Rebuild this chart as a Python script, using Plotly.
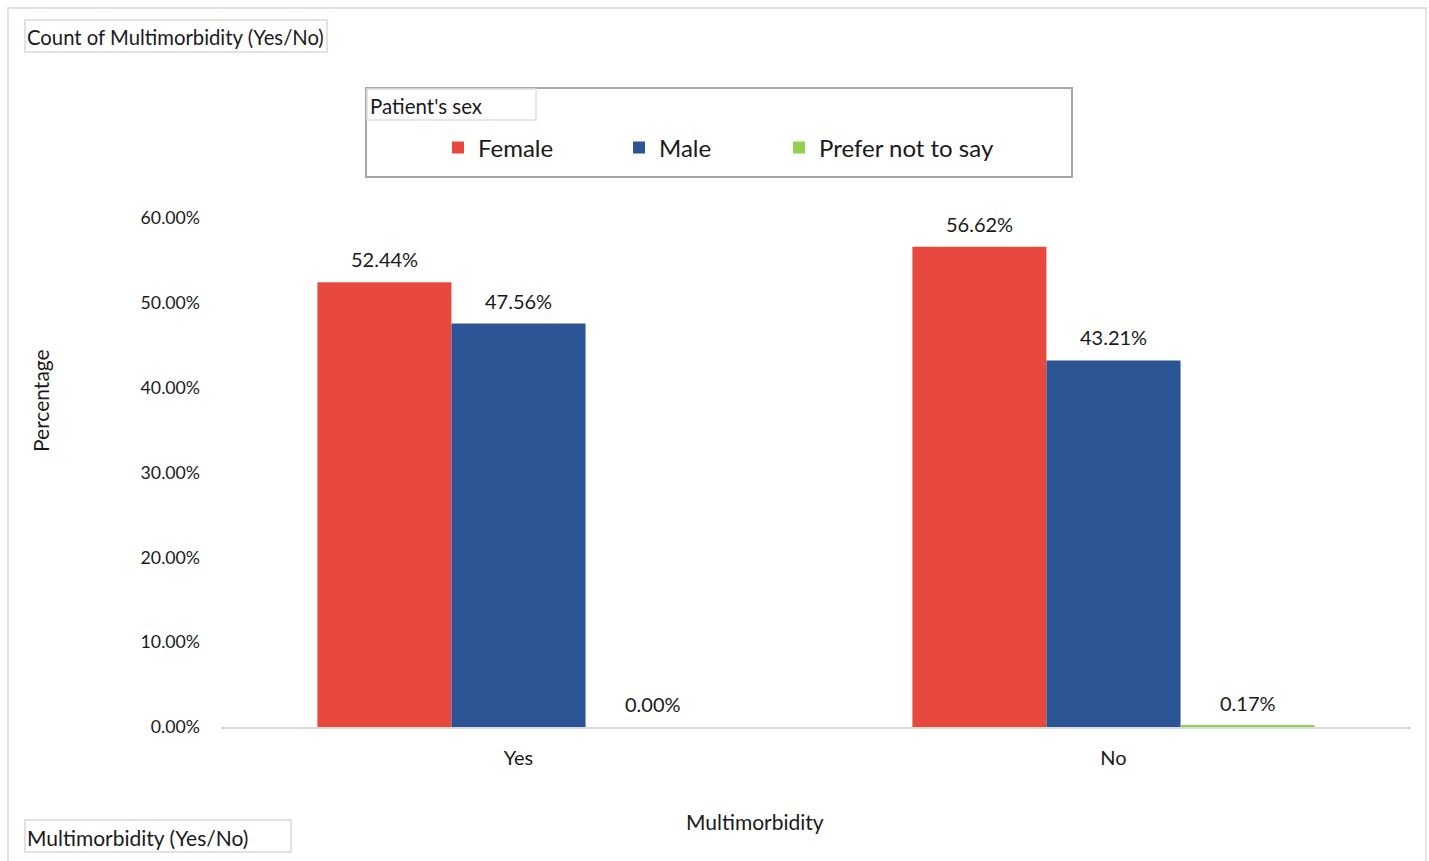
import plotly.graph_objects as go

categories = ["Yes", "No"]
series_names = ["Female", "Male", "Prefer not to say"]
female = [52.44, 56.62]
male = [47.56, 43.21]
prefer_not = [0.00, 0.17]
series_values = [female, male, prefer_not]
series_colors = ["#E8493F", "#2C5595", "#92D050"]
y_ticks = [0, 10, 20, 30, 40, 50, 60]
y_tick_labels = ["%.2f%%" % v for v in y_ticks]

W, H = 1429, 861
L, R, T, B = 221, 18, 218, 134
PW, PH = W - L - R, H - T - B
BARGAP = 0.324

def px(x):
    return (x - L) / PW

def py(y):
    return (H - B - y) / PH

FONT = "Lato, 'Open Sans', sans-serif"
TXT = "#1a1a1a"

legend_names = ["legend", "legend2", "legend3"]
legend_x = [438, 619, 779]

fig = go.Figure()
for name, vals, col, lg in zip(series_names, series_values, series_colors, legend_names):
    fig.add_trace(go.Bar(
        name=name, x=categories, y=vals,
        marker=dict(color=col, line=dict(width=0)),
        legend=lg, cliponaxis=False,
    ))

# data labels placed through data coordinates of the grouped bars
n = len(series_values)
bar_w = (1 - BARGAP) / n
annotations = []
for i, vals in enumerate(series_values):
    off = (i - (n - 1) / 2) * bar_w
    for ci, v in enumerate(vals):
        annotations.append(dict(
            x=ci + off, y=v, xref="x", yref="y", text="%.2f%%" % v,
            showarrow=False, xanchor="center", yanchor="bottom", yshift=9,
            font=dict(family=FONT, size=20, color=TXT)))

shapes = [
    dict(type="rect", xref="paper", yref="paper",
         x0=px(8), x1=px(1426), y0=py(870), y1=py(8),
         line=dict(color="#D9D9D9", width=1.5), fillcolor="rgba(0,0,0,0)", layer="below"),
    dict(type="rect", xref="paper", yref="paper",
         x0=px(366), x1=px(1072), y0=py(177), y1=py(88),
         line=dict(color="#A6A6A6", width=2), fillcolor="rgba(0,0,0,0)"),
    dict(type="rect", xref="paper", yref="paper",
         x0=px(367), x1=px(536), y0=py(120), y1=py(89),
         line=dict(color="#E0E0E0", width=1.5), fillcolor="rgba(0,0,0,0)"),
    dict(type="rect", xref="paper", yref="paper",
         x0=px(25), x1=px(327), y0=py(52), y1=py(20),
         line=dict(color="#D9D9D9", width=1.5), fillcolor="rgba(0,0,0,0)"),
    dict(type="rect", xref="paper", yref="paper",
         x0=px(25), x1=px(291), y0=py(852), y1=py(820),
         line=dict(color="#D9D9D9", width=1.5), fillcolor="rgba(0,0,0,0)"),
]

annotations += [
    dict(text="Patient's sex", xref="paper", yref="paper", x=px(368), y=py(106),
         xanchor="left", yanchor="middle", showarrow=False,
         font=dict(family=FONT, size=20.5, color=TXT)),
    dict(text="Count of Multimorbidity (Yes/No)", xref="paper", yref="paper",
         x=px(25), y=py(37), xanchor="left", yanchor="middle", showarrow=False,
         font=dict(family=FONT, size=20.3, color=TXT)),
    dict(text="Multimorbidity (Yes/No)", xref="paper", yref="paper",
         x=px(25), y=py(837), xanchor="left", yanchor="middle", showarrow=False,
         font=dict(family=FONT, size=21, color=TXT)),
    dict(text="Multimorbidity", xref="paper", yref="paper", x=px(755), y=py(821),
         xanchor="center", yanchor="middle", showarrow=False,
         font=dict(family=FONT, size=21, color=TXT)),
    dict(text="Percentage", xref="paper", yref="paper", x=px(40), y=py(401),
         xanchor="center", yanchor="middle", showarrow=False, textangle=-90,
         font=dict(family=FONT, size=21, color=TXT)),
]

legend_common = dict(orientation="h", yanchor="middle", xanchor="left",
                     font=dict(family=FONT, size=24, color=TXT),
                     bgcolor="rgba(0,0,0,0)", itemwidth=30)
layout_legends = {}
for lg, lx in zip(legend_names, legend_x):
    layout_legends[lg] = dict(legend_common, x=px(lx), y=py(148))

fig.update_layout(
    width=W, height=H,
    margin=dict(l=L, r=R, t=T, b=B, pad=0),
    paper_bgcolor="white", plot_bgcolor="white",
    barmode="group", bargap=BARGAP, bargroupgap=0,
    font=dict(family=FONT, color=TXT),
    showlegend=True,
    xaxis=dict(
        showline=True, linecolor="#D9D9D9", linewidth=2,
        showgrid=False, ticks="", ticklabelstandoff=12,
        tickfont=dict(family=FONT, size=20, color=TXT),
        fixedrange=True,
    ),
    yaxis=dict(
        range=[0, 60], tickvals=y_ticks, ticktext=y_tick_labels,
        showgrid=False, zeroline=False, showline=False, ticks="",
        ticklabelstandoff=20,
        tickfont=dict(family=FONT, size=17.7, color=TXT),
        fixedrange=True,
    ),
    shapes=shapes,
    annotations=annotations,
    **layout_legends,
)

fig.write_html("out.html", config={"displayModeBar": False},
               post_script="document.body.style.margin='0';document.body.style.overflow='hidden';")
